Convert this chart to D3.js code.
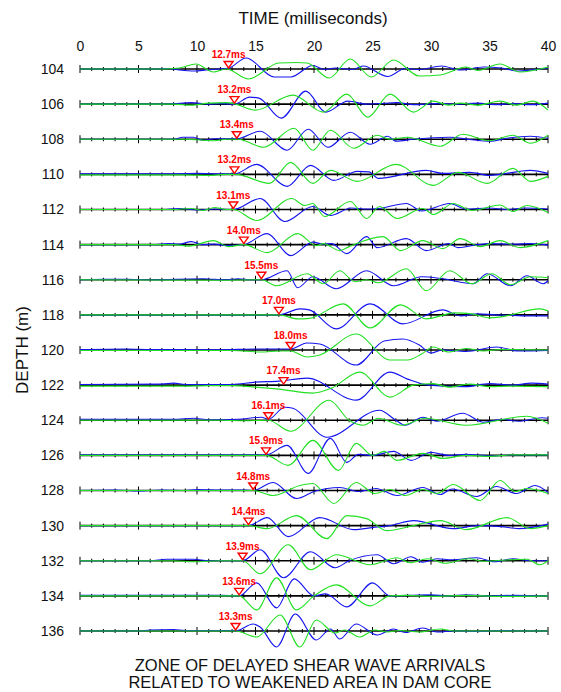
<!DOCTYPE html>
<html><head><meta charset="utf-8">
<script src="https://cdn.jsdelivr.net/npm/d3@7"></script>
<style>
body{margin:0;background:#fff;}
svg{display:block;font-family:"Liberation Sans",Arial,sans-serif;}
</style></head>
<body><svg id="c" width="561" height="692"></svg>
<script>
const depths = [104,106,108,110,112,114,116,118,120,122,124,126,128,130,132,134,136];
const arrivals = [12.7,13.2,13.4,13.2,13.1,14.0,15.5,17.0,18.0,17.4,16.1,15.9,14.8,14.4,13.9,13.6,13.3];
const timeTicks = [0,5,10,15,20,25,30,35,40];

// waveform extrema [time ms, relative amplitude], one list per depth
const blueWaves = [
 [[0,0],[6,0],[7.5,0.5],[8.5,-1],[9.8,-2],[10.8,-1],[11.8,0],[12.7,1],[14.2,11],[16.6,-8],[18,-8],[19.9,3.5],[20.9,-0.5],[21.8,1],[23.3,-0.5],[24.2,3],[26.3,-7.5],[27.8,0.5],[29,-0.5],[30.9,3],[32.5,-1],[34.5,2],[36,1],[37.5,-2],[39.3,0],[40,1]],
 [[0,0],[7,0],[8,0.5],[9.5,1.5],[11,0],[12,0.5],[13.2,0],[14.5,7],[15.3,6],[17.2,-14],[19.3,13],[21,-8],[22.9,3],[24.5,0],[25.5,0.5],[27.1,1.5],[28.5,-0.5],[30.5,0.5],[32,0],[34,1],[35.5,-0.5],[37,0.5],[38.5,-0.5],[40,1]],
 [[0,0],[8,0],[8.8,2],[9.7,2],[10.5,-1],[11.5,0.5],[13.4,0.5],[15.4,8],[17.7,-11],[19.5,10],[21.2,-8],[23.1,7],[24.8,-5],[26.3,3],[27,-2],[28.5,0],[31.6,2],[33.5,-0.5],[35,-2],[36.5,1],[38.5,3],[40,1]],
 [[0,0.5],[8,0.5],[10,1],[12,0.5],[13.2,0.5],[15.1,10],[17.7,-12],[19.7,9],[21.7,-6],[23.7,3],[24.7,2.5],[25.5,-4],[29.6,4],[31,1],[33.3,2],[35,-1],[38.5,4],[40,1]],
 [[0,0],[7,0],[8.5,1],[10,-0.5],[11.5,0.5],[13.1,0],[15.4,11],[17.5,-12],[19.9,3],[21.4,-6],[23.2,1.5],[24.5,0.5],[25.5,1],[27.9,6],[29.2,-1.5],[31.6,6],[33,0.5],[35,1.5],[36.5,0],[38,1.5],[40,0.5]],
 [[0,0],[6.5,0],[7.5,1],[8.5,0.5],[9.5,3],[10.5,0],[11.5,0.5],[12.5,-1],[14,0],[16,11],[18,-11],[19.9,2.5],[20.8,0.5],[21.5,1],[22.8,-9],[24.5,8],[25.4,-3],[27.9,6],[29.6,-6],[31.5,1],[32.3,-3],[34,0],[35,1],[37,0.5],[38.5,1],[40,-0.5]],
 [[0,0],[2,0.5],[4,0.5],[6,0],[10.5,1],[11.3,0.5],[12.5,0],[13.5,1],[14.5,0],[15.5,0],[17.7,9],[18.6,-8],[19.9,3],[21.9,-9],[24.5,9],[26.8,-6],[29.2,3],[31,1],[33.6,-4],[34.8,6],[36.8,-6],[38.2,4],[39.6,-4],[40,-1]],
 [[0,0],[14,0],[17,0],[18.8,6],[19.6,5],[21.9,-14],[24.8,11],[27.6,-9],[31,5],[32.5,-1],[34,1],[35.5,0],[37,-0.5],[38.5,-1],[40,-1]],
 [[0,0.5],[4,1],[6,0.5],[12,0.3],[15,1],[18,1],[19.4,7],[20.5,6],[23.6,-15],[26,9],[27.6,11],[29,5],[30,-3],[31,0],[33,-1.5],[35.6,3],[37.5,-1],[40,-0.5]],
 [[0,0.7],[7,1],[8,2],[9,0.7],[12,0.5],[13,0.7],[15,3],[17,4],[19.4,7],[23.6,-15],[26.5,13],[28,6],[29.8,0],[33,-1.5],[35,1.5],[37,0],[38.6,2],[40,1]],
 [[0,1],[8,1],[9.7,2],[11,0.5],[13.5,1],[15.5,3],[16.1,1],[17.5,13],[18.2,12],[21.1,-17],[25.6,10],[27,0],[27.8,-5],[29.3,3],[30.5,-1],[32.7,7],[34.5,-2],[36,1],[37.5,-1],[39.5,2.5],[40,2]],
 [[0,0.5],[10,0.5],[15.9,0.5],[17.7,10],[19.5,-18],[21.4,17],[22.8,-7],[23.8,1],[25,0],[26.8,4],[28.3,-5],[30,3],[31.5,0],[33,1],[35,-0.5],[37,0.5],[40,0.5]],
 [[0,0],[3,0.5],[5,-0.5],[7,0.5],[9,0],[10,1],[12,0.5],[14,0.5],[14.8,0],[16.5,8],[18.5,-8],[20,-1],[22.2,3],[23.8,-1],[25.3,2],[27.1,-5],[29.3,3],[30.8,-4],[31.8,1.5],[33.9,-6],[35.6,4],[37.3,-3],[38.9,5],[40,-2]],
 [[0,0],[14.4,0],[16,8],[17.8,-11],[20.5,8],[23.4,-4],[25,-2],[26.5,0],[28.5,5],[31.9,-3],[34,0],[36,-1],[37.5,-3],[40,1.5]],
 [[0,0],[6,0],[7.4,1.5],[9.7,1.5],[11,0],[13.9,0],[15.4,11],[17.4,-17],[19.7,9],[21.8,-7],[23,0],[25.4,6],[26.8,-3],[28.3,4],[29.3,-1.5],[30.5,2],[31.8,1],[33.9,3],[35.4,-1],[37,2],[38.5,0],[40,0]],
 [[0,0.5],[12,0.5],[13.6,0],[15.1,13],[16.8,-12],[18.3,17],[20,0],[21,2],[22.8,-11],[25,13],[26.5,0],[28,0.5],[30,1],[31.5,0],[33,1],[35,0],[37,0.5],[40,0]],
 [[0,0],[5,0],[6,1],[8,1.5],[9,0.5],[13,0.5],[13.3,0],[14.8,7],[15.4,4],[16.8,-16],[18.4,17],[20.2,-9],[21.4,2],[22.2,-8],[23.6,7],[25.4,-4],[26.8,2],[27.8,-1.5],[29.3,3],[30.5,-1],[32,0],[34,-0.5],[36,0.5],[38,0],[40,0]]
];
const greenWaves = [
 [[0,0],[7,0],[8.5,1],[9.9,5],[11.4,-3],[12.5,0],[14.4,-10],[17,6],[18.5,6.5],[19.4,6],[21.3,-9],[23.1,10],[24.9,-8],[26.8,9],[29,-7],[30.8,-6],[33,2],[34,-1.5],[35.9,5],[37.6,-3],[40,2]],
 [[0,0],[8,0],[9.5,-1],[11,1],[12.5,1.5],[13.3,0],[15,-6],[18.2,9],[20.8,-8],[22.8,10],[24.6,-13],[26.5,10],[28.5,-8],[30.2,3],[31.5,-1],[32.5,1],[34,-1],[35.9,3],[37.3,-1],[38.7,3],[40,-6]],
 [[0,0],[9,0],[10.5,-1],[11.5,-1.5],[12.5,0],[13.5,0],[15.7,-8],[18.3,11],[19.9,-11],[21.4,9],[23.4,-9],[25.4,4],[26.5,0],[28,2],[30.8,-7],[32.7,5],[35,-1.5],[37,4],[38.5,-4],[40,4]],
 [[0,-0.5],[9,-0.5],[11,-1],[12.5,0],[13.3,0],[16.2,-9],[18,12],[19.9,-9],[21.4,4],[23.7,-7],[27,10],[30.2,-11],[32.3,2],[34.8,-9],[37,6],[38.5,-7],[40,-2]],
 [[0,0],[8,0],[9.5,1],[10.5,-1],[11.5,2],[12.5,0],[13.1,0],[15.1,-11],[18.1,11],[19.2,4],[19.9,6],[20.9,-7],[23.1,8],[24.5,-9],[25.6,3],[27.1,-9],[29.3,1],[30.2,-5],[31.9,6],[33.5,-1],[35.9,4.5],[37,-2],[38.2,4],[40,-3]],
 [[0,0],[8,0],[9.3,-1.5],[11.4,4],[12.7,-2],[14,0],[16,-8],[18.6,11],[20.2,-1],[20.8,1],[22.2,-6],[23,-2],[25.9,8],[27.4,-6],[29.3,4],[31,-4],[32.5,6],[34.2,-2],[35.9,4],[37.6,-3],[40,4]],
 [[0,0],[12,-0.5],[15.5,0],[16.8,-6],[19.4,6],[20.8,-4],[22.2,9],[23.5,-2],[24.5,0],[25.5,-3],[27.9,11],[29.6,-11],[31.6,9],[33.5,-4],[35.2,6],[36.8,-5],[38.5,3],[40,2]],
 [[0,0],[14,0],[17,0],[18.6,-4],[19.6,-3.5],[22.5,11],[24.8,-13],[27.4,10],[29.6,-4],[32,2],[33.5,1],[35,-3],[36,-2],[39.3,6],[40,4]],
 [[0,-0.5],[13,-0.5],[15.5,-2],[17,-1],[18,-1],[19.4,-7],[20.5,-5],[23.6,16],[26.5,-10],[28,-10],[29.2,-4],[30.2,3],[31.5,-2],[33,1.5],[34.5,-1],[36,0.5],[40,0]],
 [[0,-1],[9,-1],[11,-0.5],[13,-0.5],[15,-2],[17,-4],[19.9,-8],[21.5,-3],[23.9,13],[26.5,-12],[28.5,0],[30.2,1.5],[31.5,-2],[33.3,1],[35,-1.5],[37,-1],[40,-1.5]],
 [[0,0],[12,0],[14,-0.5],[16.1,0],[18,-11],[21.3,20],[23,0],[24.2,-5],[25.5,2],[27.5,-5],[29.5,2],[33,-5],[38.2,4],[40,-3]],
 [[0,0],[14,0],[15.9,0],[17.8,-10],[19.9,15],[22.1,-15],[23.6,12],[25,0],[26,4],[27.1,-5],[29.3,2],[31,-3],[33,0],[35,-1],[37,0.5],[40,0.5]],
 [[0,0],[12,0],[14.8,0],[16.5,-5],[18.8,5],[19.9,7],[21.7,-13],[23.6,8],[25.2,-3],[26.5,1],[27.8,-5],[29.3,1],[30.5,-3],[31.9,6],[34.2,-10],[35.9,10],[37.2,-1],[38.2,2],[40,-3]],
 [[0,0],[13,0],[14.4,0],[16,-3],[18.5,10],[21.1,-13],[22.8,10],[24.5,7],[26.2,-5],[28.5,0],[30.8,5],[33,-4],[36.5,8],[38.5,-3],[40,0]],
 [[0,0],[8,0],[9.7,-1],[12,0],[13.9,0],[15.4,-13],[17.8,16],[19.7,-9],[21.9,6],[24.8,-4],[27.1,3],[28.2,-2],[29.7,2],[31.2,-2.5],[33.2,2],[34.5,-0.5],[36,0.5],[38.2,1.5],[39.3,-4],[40,0]],
 [[0,0],[12,0],[13.6,0],[15.1,-14],[16.8,18],[18.5,-14],[20,0],[21.9,11],[24.8,-10],[26.5,0],[28,0.5],[30,-0.5],[33,0.5],[36,-0.5],[40,0]],
 [[0,0],[12,0],[13.3,0],[15.1,-6],[17.1,16],[18.8,-16],[20.2,11],[21.8,-2],[22.6,1],[23.9,-6],[25.2,1],[26.3,-1],[27.3,0.5],[29,-1],[30.8,2],[32,0],[40,0]]
];

const svg = d3.select("#c");
const x = d3.scaleLinear().domain([0,40]).range([80,548]);
const y = d3.scaleLinear().domain([104,136]).range([69,631]);
const amp = d3.scaleLinear().domain([-20,20]).range([20,-20]);
const font = '"Liberation Sans",Arial,sans-serif';

// titles
svg.append("text").attr("x",313).attr("y",24).attr("text-anchor","middle")
  .attr("font-size",17).attr("fill","#111").text("TIME (milliseconds)");
svg.append("text").attr("transform","translate(28,350) rotate(-90)").attr("text-anchor","middle")
  .attr("font-size",17).attr("fill","#111").text("DEPTH (m)");
svg.append("text").attr("x",310).attr("y",671).attr("text-anchor","middle")
  .attr("font-size",16.5).attr("fill","#111").text("ZONE OF DELAYED SHEAR WAVE ARRIVALS");
svg.append("text").attr("x",310).attr("y",688).attr("text-anchor","middle")
  .attr("font-size",16.5).attr("fill","#111").text("RELATED TO WEAKENED AREA IN DAM CORE");

// axes
const ax = svg.append("g").attr("transform","translate(0,51)")
  .call(d3.axisTop(x).tickValues(timeTicks).tickSize(0).tickPadding(0));
ax.select(".domain").remove();
ax.selectAll("text").attr("font-size",14).attr("font-family",font).attr("fill","#111");
const ay = svg.append("g").attr("transform","translate(64,0)")
  .call(d3.axisLeft(y).tickValues(depths).tickSize(0).tickPadding(0));
ay.select(".domain").remove();
ay.selectAll("text").attr("font-size",14).attr("font-family",font).attr("fill","#111");

const line = d3.line().curve(d3.curveMonotoneX);
const msTicks = d3.range(0,41);

depths.forEach((d,i)=>{
  const y0 = y(d);
  const g = svg.append("g");
  g.append("line").attr("x1",x(0)).attr("x2",x(40)).attr("y1",y0).attr("y2",y0)
    .attr("stroke","#000").attr("stroke-width",1.6);
  g.selectAll("line.tk").data(msTicks).join("line").attr("class","tk")
    .attr("x1",t=>x(t)).attr("x2",t=>x(t))
    .attr("y1",t=>y0-(t%5===0?4:2)).attr("y2",t=>y0+(t%5===0?4:2))
    .attr("stroke","#000").attr("stroke-width",1);
  g.append("path").attr("d",line(blueWaves[i].map(p=>[x(p[0]),y0+amp(p[1])])))
    .attr("fill","none").attr("stroke","#1414f0").attr("stroke-width",1.1);
  g.append("path").attr("d",line(greenWaves[i].map(p=>[x(p[0]),y0+amp(p[1])])))
    .attr("fill","none").attr("stroke","#22e022").attr("stroke-width",1.1);
});

// arrival markers
depths.forEach((d,i)=>{
  const y0 = y(d), xa = x(arrivals[i]);
  svg.append("path").attr("d",`M${xa-4.5},${y0-7.5}L${xa+4.5},${y0-7.5}L${xa},${y0-1}Z`)
    .attr("fill","#fff").attr("stroke","#ff0000").attr("stroke-width",1.4);
  svg.append("text").attr("x",xa).attr("y",y0-11).attr("text-anchor","middle")
    .attr("font-size",10).attr("font-weight","bold").attr("fill","#ff0000")
    .text(arrivals[i].toFixed(1)+"ms");
});
</script></body></html>
